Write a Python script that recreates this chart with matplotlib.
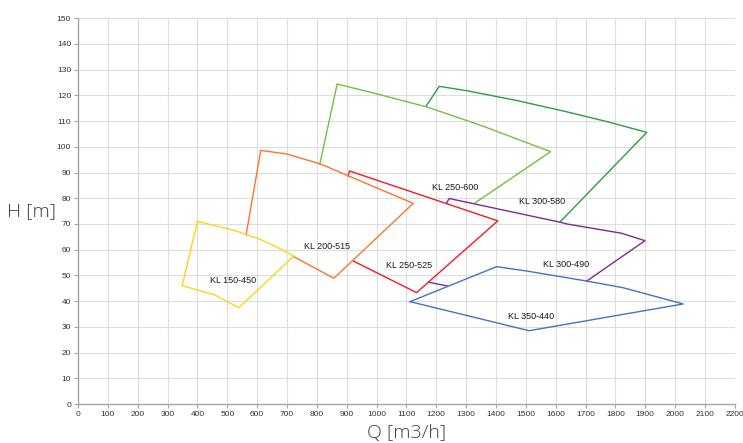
import matplotlib.pyplot as plt
import numpy as np

# pump operating envelopes, Q [m3/h] vs H [m] (visible outline of each field)
kl150_450_q = [400, 520, 600, 665, 723, 538, 459, 349, 400]
kl150_450_h = [71.0, 67.6, 64.5, 61.1, 57.5, 37.4, 42.4, 46.0, 71.0]

kl200_515_q = [563, 612, 699, 810, 1123, 857, 719]
kl200_515_h = [65.7, 98.6, 97.2, 93.4, 78.0, 48.9, 57.5]

kl250_525_q = [905, 909, 1406, 1134, 922]
kl250_525_h = [88.6, 90.6, 71.2, 43.3, 55.6]

kl250_600_q = [810, 868, 1000, 1168, 1350, 1583, 1330]
kl250_600_h = [93.3, 124.4, 120.6, 115.5, 108.3, 98.1, 78.2]

kl300_580_q = [1166, 1210, 1302, 1469, 1637, 1771, 1905, 1614]
kl300_580_h = [115.8, 123.5, 121.8, 118.0, 113.6, 109.8, 105.6, 70.7]

# two visible pieces, split with nan
kl300_490_q = [1235, 1243, 1614, 1637, 1820, 1899, 1704, np.nan, 1176, 1237]
kl300_490_h = [78.2, 79.9, 70.7, 70.0, 66.4, 63.5, 47.8, np.nan, 47.3, 45.9]

kl350_440_q = [1112, 1402, 1503, 1704, 1826, 2027, 1511, 1112]
kl350_440_h = [39.8, 53.4, 51.7, 47.8, 45.2, 38.9, 28.5, 39.8]

series = [
    ('KL 300-580', kl300_580_q, kl300_580_h, '#2E9B47', (1553, 78.6)),
    ('KL 250-600', kl250_600_q, kl250_600_h, '#72C043', (1263, 84.1)),
    ('KL 300-490', kl300_490_q, kl300_490_h, '#7D2C8C', (1634, 54.1)),
    ('KL 250-525', kl250_525_q, kl250_525_h, '#EE1C24', (1110, 54.0)),
    ('KL 200-515', kl200_515_q, kl200_515_h, '#FF7328', (833, 61.1)),
    ('KL 150-450', kl150_450_q, kl150_450_h, '#FFD21A', (520, 47.9)),
    ('KL 350-440', kl350_440_q, kl350_440_h, '#4472C4', (1516, 34.2)),
]

fig = plt.figure(figsize=(7.43, 4.43), dpi=100)
ax = fig.add_axes([0.105, 0.088, 0.884, 0.871])

for name, q, h, col, pos in series:
    ax.plot(q, h, color=col, lw=1.0)
    ax.text(pos[0], pos[1], name, fontsize=6.5, family='Liberation Sans',
            ha='center', va='center', color='#1a1a1a')

ax.set_xlim(0, 2200)
ax.set_ylim(0, 150)
ax.set_xticks(np.arange(0, 2201, 100))
ax.set_yticks(np.arange(0, 151, 10))
ax.grid(True, color='#dedede', lw=0.8)
ax.set_axisbelow(True)

for s in ['top', 'right']:
    ax.spines[s].set_visible(False)
for s in ['left', 'bottom']:
    ax.spines[s].set_color('#a6a6a6')
    ax.spines[s].set_linewidth(1.0)

ax.tick_params(length=3, width=0.8, color='#a6a6a6', labelsize=6,
               labelcolor='#333333', pad=2)
for lab in ax.get_xticklabels() + ax.get_yticklabels():
    lab.set_family('Liberation Sans')

ax.set_xlabel('Q [m3/h]', fontsize=14, family='Open Sans', weight='light',
              color='#404040', labelpad=4)
ax.set_ylabel('H [m]', fontsize=14, family='Open Sans', weight='light',
              color='#404040', rotation=0, labelpad=18, va='center')

fig.savefig('out.png', dpi=100)
